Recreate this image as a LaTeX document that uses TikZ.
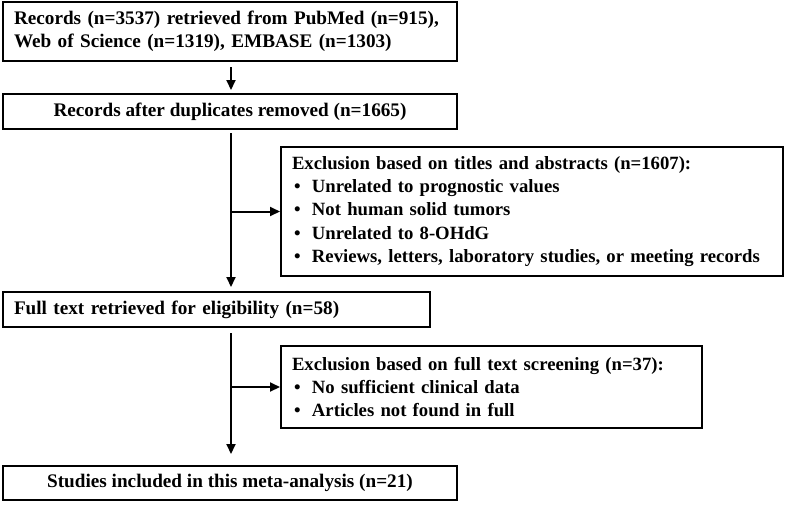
\documentclass[tikz,border=0pt]{standalone}
\usepackage{fontspec}
\setmainfont{Liberation Serif}
\usetikzlibrary{arrows.meta}
\begin{document}
\begin{tikzpicture}[x=1pt,y=-1pt,
  font=\bfseries\fontsize{19.2}{23.5}\selectfont,
  box/.style={draw, line width=2pt, inner xsep=11pt, inner ysep=0pt},
  excl/.style={box, font=\bfseries\fontsize{18.7}{23.2}\selectfont},
  conn/.style={line width=2pt, -{Triangle[length=10pt,width=9pt]}}]
\useasboundingbox (0,0) rectangle (787,504);
\newcommand{\bul}{\hspace*{2pt}\makebox[18pt][l]{\textbullet}}
\node[box, minimum width=454pt, minimum height=59pt, text width=432pt, align=left] (b1) at (230,31.5)
  {Records (n=3537) retrieved from PubMed (n=915),\\Web of Science (n=1319), EMBASE (n=1303)};
\node[box, minimum width=454pt, minimum height=35pt, align=center] (b2) at (230,111.5)
  {Records after duplicates removed (n=1665)};
\node[excl, minimum width=502pt, minimum height=129pt, text width=480pt, align=left] (b3) at (532,211.5)
  {Exclusion based on titles and abstracts (n=1607):\\
   \bul Unrelated to prognostic values\\
   \bul Not human solid tumors\\
   \bul Unrelated to 8-OHdG\\
   \bul Reviews, letters, laboratory studies, or meeting records};
\node[box, minimum width=427pt, minimum height=35pt, text width=405pt, align=left] (b4) at (216.5,309.5)
  {Full text retrieved for eligibility (n=58)};
\node[excl, minimum width=421pt, minimum height=82pt, text width=399pt, align=left] (b5) at (491.5,387)
  {Exclusion based on full text screening (n=37):\\
   \bul No sufficient clinical data\\
   \bul Articles not found in full};
\node[box, minimum width=454pt, minimum height=34pt, align=center] (b6) at (230,483)
  {Studies included in this meta-analysis (n=21)};
\coordinate (t1) at (231,61);
\coordinate (v1) at (231,129);
\coordinate (v2) at (231,327);
\draw[conn, shorten <=6pt, shorten >=3pt] (t1) -- (t1 |- b2.north);
\draw[line width=2pt, shorten <=4pt] (v1) -- (v1 |- b3.west);
\draw[conn] (v1 |- b3.west) -- (b3.west);
\draw[conn, shorten >=4pt] (v1 |- b3.west) -- (v1 |- b4.north);
\draw[line width=2pt, shorten <=6pt] (v2) -- (v2 |- b5.west);
\draw[conn] (v2 |- b5.west) -- (b5.west);
\draw[conn, shorten >=11pt] (v2 |- b5.west) -- (v2 |- b6.north);
\end{tikzpicture}
\end{document}
